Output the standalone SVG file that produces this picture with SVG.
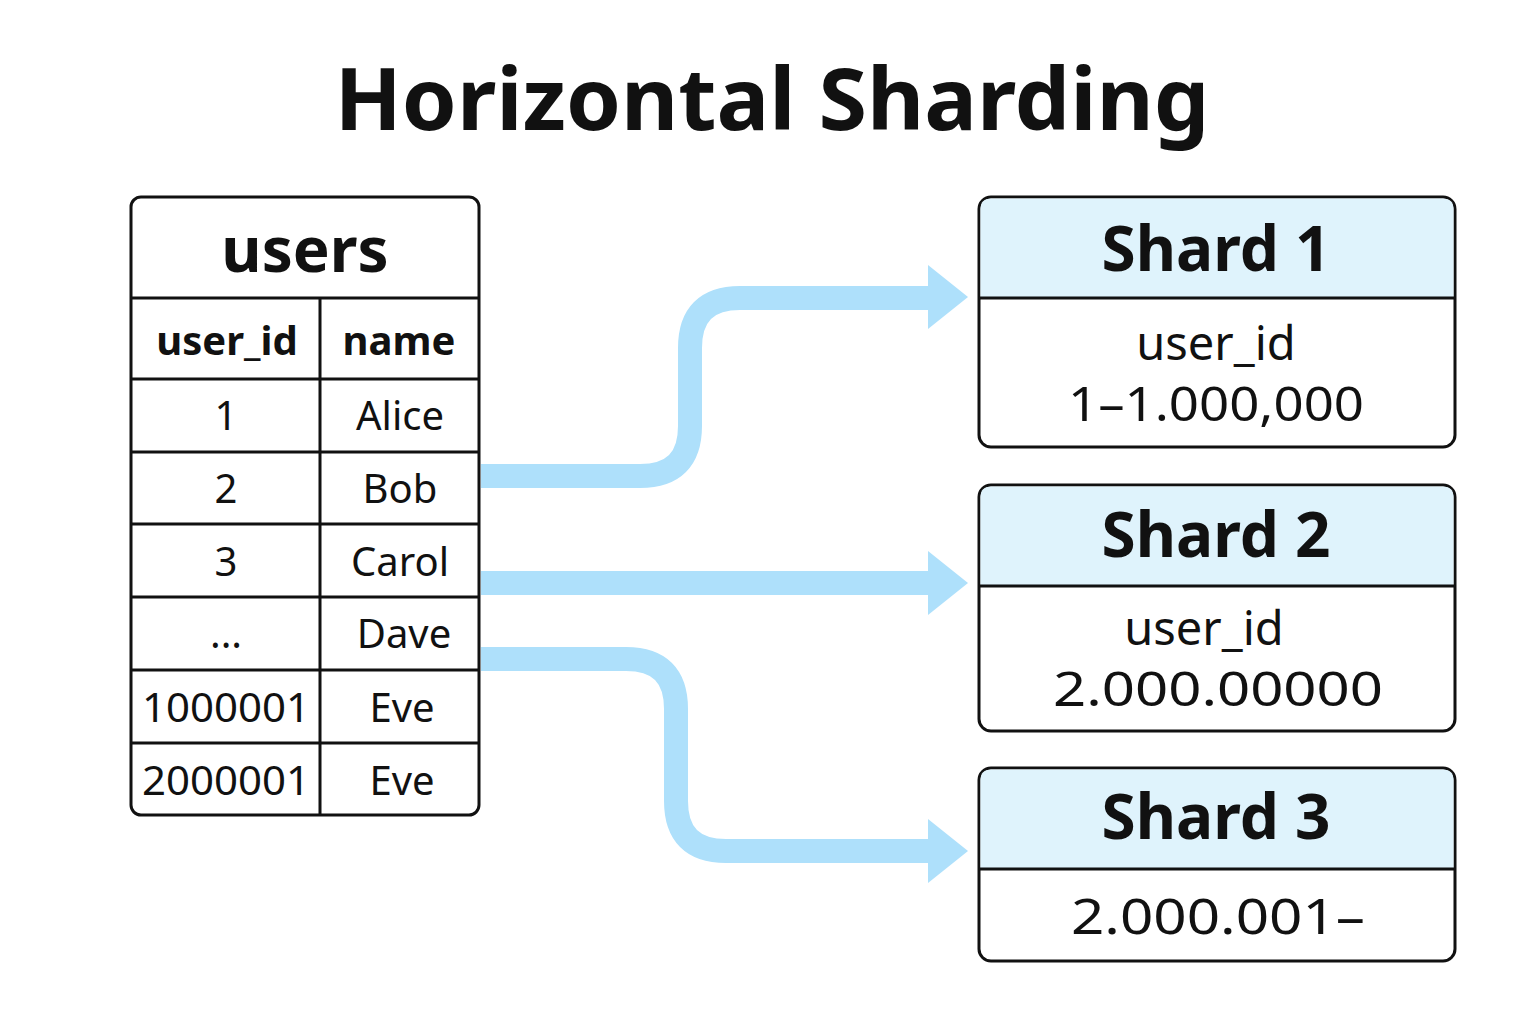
<svg xmlns="http://www.w3.org/2000/svg" width="1536" height="1024" viewBox="0 0 1536 1024">
<style>
text{font-family:"Noto Sans","Open Sans",sans-serif;fill:#111;text-anchor:middle}
.b{font-weight:bold}
.box{fill:#fff;stroke:#111;stroke-width:3}
.ln{stroke:#111;stroke-width:3}
.hd{fill:#dff3fc}
.cell{font-size:40px}
.val{font-size:47px}
.flow{fill:none;stroke:#aee0fb;stroke-width:24}
.head{fill:#aee0fb}
</style>
<rect width="1536" height="1024" fill="#fff"/>
<text class="b" x="772" y="130" font-size="86" textLength="875" lengthAdjust="spacingAndGlyphs">Horizontal Sharding</text>
<g id="connectors">
<path class="flow" d="M481 476 H640 Q690 476 690 426 V348 Q690 298 740 298 H932"/>
<polygon class="head" points="928,265 968,297 928,329"/>
<path class="flow" d="M481 583 H932"/>
<polygon class="head" points="928,551 968,583 928,615"/>
<path class="flow" d="M481 659 H626 Q676 659 676 709 V801 Q676 851 726 851 H932"/>
<polygon class="head" points="928,819 968,851 928,883"/>
</g>
<g id="users">
<rect class="box" x="131" y="197" width="348" height="618" rx="10"/>
<line class="ln" x1="131" y1="298" x2="479" y2="298"/>
<line class="ln" x1="131" y1="379" x2="479" y2="379"/>
<line class="ln" x1="131" y1="452" x2="479" y2="452"/>
<line class="ln" x1="131" y1="524" x2="479" y2="524"/>
<line class="ln" x1="131" y1="597" x2="479" y2="597"/>
<line class="ln" x1="131" y1="670" x2="479" y2="670"/>
<line class="ln" x1="131" y1="743" x2="479" y2="743"/>
<line class="ln" x1="320" y1="298" x2="320" y2="815"/>
<text class="b" x="305" y="272" font-size="62">users</text>
<text class="b" x="227" y="355" font-size="40">user_id</text>
<text class="b" x="399" y="355" font-size="40">name</text>
<text class="cell" x="226" y="430">1</text><text class="cell" x="400" y="430">Alice</text>
<text class="cell" x="226" y="503">2</text><text class="cell" x="400" y="503">Bob</text>
<text class="cell" x="226" y="576">3</text><text class="cell" x="400" y="576">Carol</text>
<text class="cell" x="226" y="648">...</text><text class="cell" x="404" y="648">Dave</text>
<text class="cell" x="226" y="722" textLength="168" lengthAdjust="spacingAndGlyphs">1000001</text><text class="cell" x="402" y="722">Eve</text>
<text class="cell" x="226" y="795" textLength="168" lengthAdjust="spacingAndGlyphs">2000001</text><text class="cell" x="402" y="795">Eve</text>
</g>
<g id="shard1">
<rect class="box" x="979" y="197" width="476" height="250" rx="12"/>
<path class="hd" d="M991 198.5 H1443 Q1453.5 198.5 1453.5 209 V298 H980.5 V209 Q980.5 198.5 991 198.5Z"/>
<line class="ln" x1="979" y1="298" x2="1455" y2="298"/>
<text class="b" x="1216" y="271" font-size="62">Shard 1</text>
<text class="val" x="1216" y="360">user_id</text>
<text class="val" x="1216" y="421" textLength="296" lengthAdjust="spacingAndGlyphs">1–1.000,000</text>
</g>
<g id="shard2">
<rect class="box" x="979" y="485" width="476" height="246" rx="12"/>
<path class="hd" d="M991 486.5 H1443 Q1453.5 486.5 1453.5 497 V586 H980.5 V497 Q980.5 486.5 991 486.5Z"/>
<line class="ln" x1="979" y1="586" x2="1455" y2="586"/>
<text class="b" x="1216" y="557" font-size="62">Shard 2</text>
<text class="val" x="1204" y="645">user_id</text>
<text class="val" x="1218" y="706" textLength="330" lengthAdjust="spacingAndGlyphs">2.000.00000</text>
</g>
<g id="shard3">
<rect class="box" x="979" y="768" width="476" height="193" rx="12"/>
<path class="hd" d="M991 769.5 H1443 Q1453.5 769.5 1453.5 780 V869 H980.5 V780 Q980.5 769.5 991 769.5Z"/>
<line class="ln" x1="979" y1="869" x2="1455" y2="869"/>
<text class="b" x="1216" y="839" font-size="62">Shard 3</text>
<text x="1218" y="934" font-size="50" textLength="294" lengthAdjust="spacingAndGlyphs">2.000.001–</text>
</g>
</svg>
